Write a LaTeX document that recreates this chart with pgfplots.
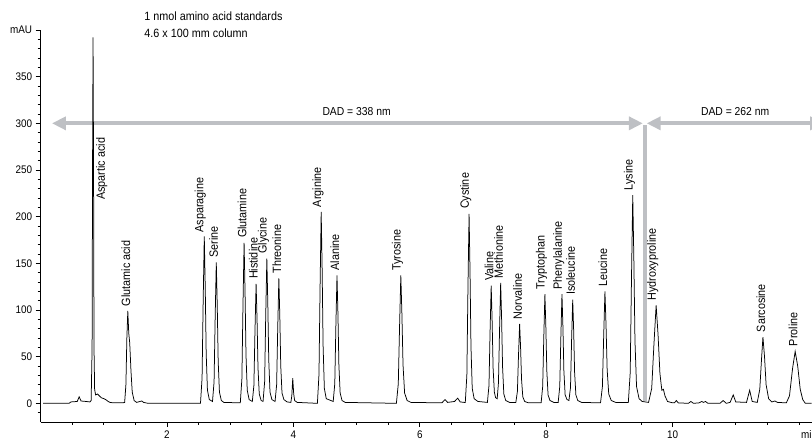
\documentclass[border=0pt]{standalone}
\usepackage{pgfplots}
\pgfplotsset{compat=1.18}
\usepackage{fontspec}
\setmainfont[FakeStretch=0.9]{Liberation Sans}
\usetikzlibrary{arrows.meta}
\definecolor{dadgray}{RGB}{190,192,196}
\begin{document}
\begin{tikzpicture}
\begin{axis}[
  scale only axis, width=771pt, height=392pt,
  xmin=0, xmax=12.2, ymin=-20, ymax=400,
  axis x line*=bottom, axis y line*=left,
  axis line style={-, line width=0.8pt},
  xtick={2,4,6,8,10},
  minor xtick={0.5,1,...,12},
  ytick={0,50,...,400},
  yticklabels={0,50,100,150,200,250,300,350,mAU},
  minor ytick={-10,0,...,390},
  tick align=outside, major tick length=5pt, minor tick length=3pt,
  tick style={black, line width=0.6pt},
  ticklabel style={font=\fontsize{11}{13}\selectfont},
  /pgf/number format/assume math mode=true,
  clip=false,
]
% DAD arrows
\draw[dadgray, line width=4.3pt, {Triangle[length=14pt,width=13pt]}-{Triangle[length=14pt,width=13pt]}]
  (axis cs:0.18,300) -- (axis cs:9.53,300);
\draw[dadgray, line width=4.3pt, {Triangle[length=14pt,width=13pt]}-{Triangle[length=14pt,width=13pt]}]
  (axis cs:9.59,300) -- (axis cs:12.4,300);
\draw[dadgray, line width=4.3pt] (axis cs:9.56,298) -- (axis cs:9.56,3);
\node[font=\fontsize{11.5}{13}\selectfont, anchor=south] at (axis cs:5.0,304) {DAD = 338 nm};
\node[font=\fontsize{11.5}{13}\selectfont, anchor=south] at (axis cs:10.99,304) {DAD = 262 nm};
\node[font=\fontsize{12}{17}\selectfont, anchor=north west, align=left, inner sep=0pt] at (axis cs:1.64,419.5)
  {1 nmol amino acid standards\\4.6 x 100 mm column};
\node[font=\fontsize{11}{13}\selectfont, anchor=north west, inner sep=0pt] at (axis cs:12.03,-29) {min};

\addplot[black, line width=0.75pt] coordinates {
(0.04,0) (0.45,0) (0.48,1.5) (0.58,2) (0.61,7) (0.64,2.5) (0.72,2) (0.78,1.5) (0.8,3)
(0.815,60) (0.822,250) (0.83,392) (0.838,250) (0.845,60) (0.855,15) (0.87,9) (0.9,10) (0.93,8) (0.96,6) (1.0,5) (1.03,4) (1.07,2) (1.1,1) (1.15,0.5) (1.3,0.5)
(1.33,1) (1.35,20) (1.365,70) (1.38,99) (1.395,75) (1.41,65) (1.43,35) (1.45,12) (1.48,3) (1.52,1) (1.6,2.5) (1.63,1) (1.7,0)
(2.53,0) (2.555,27) (2.572,107) (2.59,179) (2.605,125) (2.62,54) (2.64,14) (2.67,4)
(2.72,2) (2.745,23) (2.762,91) (2.78,151) (2.795,106) (2.81,45) (2.83,12) (2.86,3) (2.9,1)
(3.16,0.5) (3.185,26) (3.202,103) (3.22,172) (3.235,120) (3.25,52) (3.27,14) (3.3,4)
(3.35,2) (3.375,19) (3.392,77) (3.41,128) (3.425,90) (3.44,38) (3.46,10) (3.49,3)
(3.52,2) (3.545,23) (3.562,93) (3.58,155) (3.595,108) (3.61,47) (3.63,12) (3.66,4)
(3.71,2) (3.735,20) (3.752,80) (3.77,134) (3.785,94) (3.8,40) (3.82,11) (3.85,4) (3.9,1.5)
(3.96,1) (3.975,8) (3.99,27) (4.005,10) (4.02,3) (4.06,1)
(4.38,0) (4.405,31) (4.422,123) (4.44,205) (4.455,144) (4.47,62) (4.49,16) (4.52,5)
(4.63,2) (4.655,21) (4.672,82) (4.69,137) (4.705,96) (4.72,41) (4.74,11) (4.77,3) (4.82,1)
(5.63,0) (5.66,21) (5.68,82) (5.70,137) (5.717,96) (5.735,41) (5.76,11) (5.8,3) (5.86,1)
(6.35,0.5) (6.4,4) (6.44,1) (6.55,2) (6.6,5.5) (6.64,1.5) (6.7,1)
(6.72,1) (6.745,30) (6.762,122) (6.78,203) (6.795,142) (6.81,61) (6.83,16) (6.86,5) (6.92,2)
(7.07,1) (7.095,19) (7.112,76) (7.13,126) (7.145,88) (7.16,38) (7.18,12) (7.2,6)
(7.225,5) (7.245,22) (7.262,78) (7.28,129) (7.295,90) (7.31,39) (7.33,10) (7.36,3) (7.42,1)
(7.52,1) (7.545,13) (7.562,51) (7.58,85) (7.595,60) (7.61,26) (7.63,7) (7.66,2) (7.72,0.5)
(7.92,0.5) (7.945,18) (7.962,70) (7.98,117) (7.995,82) (8.01,35) (8.03,9) (8.06,3) (8.12,1)
(8.19,1) (8.215,18) (8.232,70) (8.25,117) (8.265,82) (8.28,35) (8.3,9) (8.33,4)
(8.36,3) (8.385,17) (8.402,67) (8.42,111) (8.435,78) (8.45,33) (8.47,9) (8.5,3) (8.56,1)
(8.86,0.5) (8.89,18) (8.91,72) (8.93,120) (8.947,84) (8.965,36) (8.99,10) (9.03,3) (9.1,1)
(9.3,1) (9.33,33) (9.35,134) (9.37,223) (9.387,156) (9.405,67) (9.43,18) (9.47,5) (9.52,2)
(9.62,1) (9.67,16) (9.705,63) (9.74,105) (9.77,74) (9.8,32) (9.83,14) (9.855,15) (9.88,8) (9.92,2) (10.0,0.5)
(10.03,0.5) (10.06,3) (10.09,0.5) (10.25,0) (10.29,2) (10.33,0) (10.42,0.5) (10.46,2) (10.49,1) (10.52,2) (10.56,0)
(10.75,0) (10.8,3) (10.85,0) (10.91,1) (10.96,9) (11.0,1.5) (11.17,1) (11.22,14) (11.26,2)
(11.34,1) (11.38,15) (11.41,50) (11.43,71) (11.455,50) (11.48,20) (11.52,5) (11.57,1.5) (11.62,2.5) (11.66,1)
(11.8,0.5) (11.85,8) (11.9,38) (11.94,55.6) (11.98,40) (12.02,15) (12.06,4) (12.1,0) (12.2,0)
};

\tikzset{pk/.style={rotate=90, anchor=south west, inner sep=0pt, font=\fontsize{12}{14}\selectfont}}
\node[pk] at (axis cs:1.06,218) {Aspartic acid};
\node[pk] at (axis cs:1.42,104) {Glutamic acid};
\node[pk] at (axis cs:2.62,183) {Asparagine};
\node[pk] at (axis cs:2.81,156) {Serine};
\node[pk] at (axis cs:3.26,177) {Glutamine};
\node[pk] at (axis cs:3.44,133) {Histidine};
\node[pk] at (axis cs:3.62,160) {Glycine};
\node[pk] at (axis cs:3.81,139) {Threonine};
\node[pk] at (axis cs:4.48,210) {Arginine};
\node[pk] at (axis cs:4.73,142) {Alanine};
\node[pk] at (axis cs:5.74,142) {Tyrosine};
\node[pk] at (axis cs:6.82,208) {Cystine};
\node[pk] at (axis cs:7.17,131) {Valine};
\node[pk] at (axis cs:7.32,134) {Methionine};
\node[pk] at (axis cs:7.62,90) {Norvaline};
\node[pk] at (axis cs:8.02,122) {Tryptophan};
\node[pk] at (axis cs:8.29,122) {Phenylalanine};
\node[pk] at (axis cs:8.46,116) {Isoleucine};
\node[pk] at (axis cs:8.97,125) {Leucine};
\node[pk] at (axis cs:9.41,228) {Lysine};
\node[pk] at (axis cs:9.78,110) {Hydroxyproline};
\node[pk] at (axis cs:11.47,76) {Sarcosine};
\node[pk] at (axis cs:11.98,61) {Proline};
\end{axis}
\pgfresetboundingbox
\path[use as bounding box] (-40.6pt,-19pt) rectangle (771.4pt,422pt);
\end{tikzpicture}
\end{document}
